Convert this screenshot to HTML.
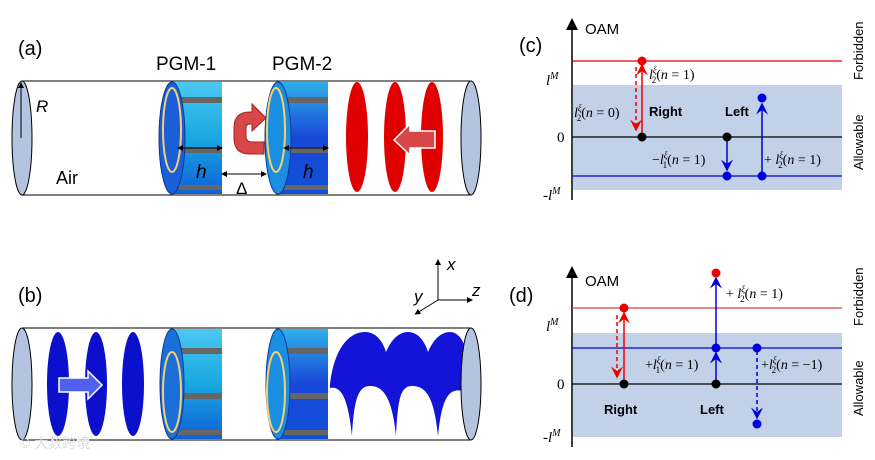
<!DOCTYPE html>
<html><head><meta charset="utf-8"><style>
body{margin:0;background:#fff}
svg{display:block;font-family:"Liberation Sans",sans-serif}
.m{font-family:"Liberation Serif",serif}
</style></head><body>
<svg width="875" height="460" viewBox="0 0 875 460" xmlns="http://www.w3.org/2000/svg">
<defs>
<marker id="ar" markerWidth="8" markerHeight="8" refX="7" refY="4" orient="auto"><path d="M0,0 L8,4 L0,8 L3,4 z" fill="#e00"/></marker>
<marker id="ab" markerWidth="8" markerHeight="8" refX="7" refY="4" orient="auto"><path d="M0,0 L8,4 L0,8 L3,4 z" fill="#00d"/></marker>
<marker id="am" markerWidth="6" markerHeight="6" refX="3" refY="3" orient="auto-start-reverse"><path d="M0,0 L6,3 L0,6 z" fill="#000"/></marker>
<linearGradient id="cy" x1="0" y1="0" x2="0" y2="1"><stop offset="0" stop-color="#4cc8f0"/><stop offset="0.5" stop-color="#18a8e0"/><stop offset="1" stop-color="#1060d8"/></linearGradient>
<linearGradient id="cy2" x1="0" y1="0" x2="0" y2="1"><stop offset="0" stop-color="#30b0e8"/><stop offset="0.5" stop-color="#1848d8"/><stop offset="1" stop-color="#1050d8"/></linearGradient>
</defs>

<!-- Panel a -->
<text x="18" y="55" font-size="20">(a)</text>
<text x="156" y="70" font-size="19">PGM-1</text>
<text x="272" y="70" font-size="19">PGM-2</text>
<line x1="22" y1="81" x2="471" y2="81" stroke="#000"/>
<line x1="22" y1="195" x2="471" y2="195" stroke="#000"/>
<ellipse cx="22" cy="138" rx="10" ry="57" fill="#b4c4e0" stroke="#000"/>
<ellipse cx="471" cy="138" rx="10" ry="57" fill="#b4c4e0" stroke="#000"/>
<line x1="21" y1="138" x2="21" y2="85" stroke="#000" marker-end="url(#am)"/>
<text x="36" y="112" font-size="17" font-style="italic">R</text>
<text x="56" y="184" font-size="18">Air</text>
<g>
<rect x="172" y="82" width="50" height="112" fill="url(#cy)"/>
<rect x="178" y="97" width="44" height="6" fill="#666"/><rect x="178" y="147" width="44" height="6" fill="#666"/><rect x="178" y="185" width="44" height="5" fill="#666"/>
<ellipse cx="172" cy="138" rx="13" ry="56" fill="#1a5fd8" stroke="#0a3aa0"/>
<ellipse cx="172" cy="130" rx="9" ry="42" fill="none" stroke="#f4d070" stroke-width="2"/>
<line x1="180" y1="148" x2="220" y2="148" stroke="#000" marker-start="url(#am)" marker-end="url(#am)"/>
<text x="196" y="178" font-size="19" font-style="italic">h</text>
</g>
<g>
<rect x="278" y="82" width="50" height="112" fill="url(#cy2)"/>
<rect x="284" y="97" width="44" height="6" fill="#666"/><rect x="284" y="147" width="44" height="6" fill="#666"/><rect x="284" y="185" width="44" height="5" fill="#666"/>
<ellipse cx="278" cy="138" rx="13" ry="56" fill="#1a8ee0" stroke="#0a3aa0"/>
<ellipse cx="276" cy="130" rx="9" ry="42" fill="none" stroke="#f4d070" stroke-width="2"/>
<line x1="286" y1="148" x2="326" y2="148" stroke="#000" marker-start="url(#am)" marker-end="url(#am)"/>
<text x="303" y="178" font-size="19" font-style="italic">h</text>
</g>
<line x1="224" y1="174" x2="264" y2="174" stroke="#000" marker-start="url(#am)" marker-end="url(#am)"/>
<text x="236" y="194" font-size="17">Δ</text>
<path d="M264,154 L250,154 Q234,154 234,138 L234,128 Q234,112 250,112 L252,112 L252,104 L266,118 L252,131 L252,124 L250,124 Q246,124 246,128 L246,136 Q246,142 252,142 L264,142 Z" fill="#d84848" stroke="#a02020"/>
<ellipse cx="357" cy="137" rx="11" ry="55" fill="#e00000"/>
<ellipse cx="395" cy="137" rx="11" ry="55" fill="#e00000"/>
<ellipse cx="432" cy="137" rx="11" ry="55" fill="#e00000"/>
<path d="M435,131 L410,131 L410,124 L394,140 L410,155 L410,148 L435,148 Z" fill="#d84848" stroke="#fff" stroke-width="1.5"/>

<!-- Panel b -->
<text x="18" y="302" font-size="20">(b)</text>
<line x1="438" y1="300" x2="438" y2="262" stroke="#000" marker-end="url(#am)"/>
<line x1="438" y1="300" x2="470" y2="300" stroke="#000" marker-end="url(#am)"/>
<line x1="438" y1="300" x2="417" y2="313" stroke="#000" marker-end="url(#am)"/>
<text x="447" y="270" font-size="17" font-style="italic">x</text>
<text x="472" y="296" font-size="17" font-style="italic">z</text>
<text x="414" y="302" font-size="17" font-style="italic">y</text>
<line x1="22" y1="328" x2="471" y2="328" stroke="#000"/>
<line x1="22" y1="440" x2="471" y2="440" stroke="#000"/>
<ellipse cx="22" cy="384" rx="10" ry="56" fill="#b4c4e0" stroke="#000"/>
<ellipse cx="58" cy="384" rx="11" ry="52" fill="#0a10cc"/>
<ellipse cx="96" cy="384" rx="11" ry="52" fill="#0a10cc"/>
<ellipse cx="133" cy="384" rx="11" ry="52" fill="#0a10cc"/>
<path d="M59,378 L88,378 L88,371 L102,385 L88,399 L88,392 L59,392 Z" fill="#5060f0" stroke="#fff" stroke-width="1.5"/>
<g>
<rect x="172" y="329" width="50" height="110" fill="url(#cy)"/>
<rect x="178" y="348" width="44" height="6" fill="#666"/><rect x="178" y="393" width="44" height="6" fill="#666"/><rect x="178" y="430" width="44" height="5" fill="#666"/>
<ellipse cx="172" cy="384" rx="12" ry="55" fill="#1a6fd8" stroke="#0a3aa0"/>
<ellipse cx="172" cy="392" rx="9" ry="40" fill="none" stroke="#f4d070" stroke-width="2"/>
</g>
<g>
<rect x="278" y="329" width="50" height="110" fill="url(#cy2)"/>
<rect x="284" y="348" width="44" height="6" fill="#666"/><rect x="284" y="393" width="44" height="6" fill="#666"/><rect x="284" y="430" width="44" height="5" fill="#666"/>
<ellipse cx="278" cy="384" rx="12" ry="55" fill="#1a8ee0" stroke="#0a3aa0"/>
<ellipse cx="276" cy="392" rx="9" ry="40" fill="none" stroke="#f4d070" stroke-width="2"/>
</g>
<path d="M330,384 C334,350 348,332 365,332 C378,332 384,345 386,352 C392,338 400,332 408,332 C420,332 426,345 428,352 C434,338 442,332 450,332 C460,332 466,345 466,355 L466,392 C450,386 442,395 438,436 C434,395 425,386 412,386 C400,386 398,400 396,436 C392,395 382,386 370,386 C358,386 354,400 352,436 C348,395 340,386 330,388 Z" fill="#1414d8"/>
<ellipse cx="471" cy="384" rx="10" ry="56" fill="#b4c4e0" stroke="#000"/>
<text x="20" y="448" font-size="14" fill="#ddd" font-family="'Liberation Sans','Noto Sans CJK SC',sans-serif">© 大数跨境</text>

<!-- Panel c -->
<text x="519" y="52" font-size="20">(c)</text>
<rect x="573" y="85" width="269" height="105" fill="#c2d0e8"/>
<line x1="572" y1="200" x2="572" y2="28" stroke="#000" stroke-width="1.5"/>
<path d="M566,30 L572,18 L578,30 Z"/>
<text x="585" y="34" font-size="15">OAM</text>
<line x1="572" y1="61" x2="842" y2="61" stroke="#d00" stroke-width="1.2"/>
<line x1="572" y1="137" x2="842" y2="137" stroke="#000" stroke-width="1.2"/>
<line x1="572" y1="176" x2="842" y2="176" stroke="#00d" stroke-width="1.2"/>
<text class="m" x="546" y="85" font-size="15"><tspan font-style="italic">l</tspan><tspan font-size="10" dy="-6" font-style="italic">M</tspan></text>
<text class="m" x="557" y="142" font-size="15">0</text>
<text class="m" x="543" y="200" font-size="15">-<tspan font-style="italic">l</tspan><tspan font-size="10" dy="-6" font-style="italic">M</tspan></text>
<line x1="642" y1="135" x2="642" y2="65" stroke="#e00" stroke-width="1.5" marker-end="url(#ar)"/>
<line x1="636" y1="67" x2="636" y2="130" stroke="#e00" stroke-width="1.5" stroke-dasharray="4,3" marker-end="url(#ar)"/>
<line x1="727" y1="140" x2="727" y2="170" stroke="#00d" stroke-width="1.5" marker-end="url(#ab)"/>
<line x1="762" y1="174" x2="762" y2="104" stroke="#00d" stroke-width="1.5" marker-end="url(#ab)"/>
<circle cx="642" cy="61" r="4.5" fill="#e00"/>
<circle cx="642" cy="137" r="4.5" fill="#000"/>
<circle cx="727" cy="137" r="4.5" fill="#000"/>
<circle cx="727" cy="176" r="4.5" fill="#00d"/>
<circle cx="762" cy="176" r="4.5" fill="#00d"/>
<circle cx="762" cy="98" r="4.5" fill="#00d"/>
<text class="m" x="649" y="79" font-size="14"><tspan font-style="italic">l</tspan><tspan font-size="9" dy="-6" font-style="italic">ξ</tspan><tspan font-size="9" dx="-5" dy="10">2</tspan><tspan dy="-4">(</tspan><tspan font-style="italic">n</tspan> = 1)</text>
<text class="m" x="574" y="117" font-size="14"><tspan font-style="italic">l</tspan><tspan font-size="9" dy="-6" font-style="italic">ξ</tspan><tspan font-size="9" dx="-5" dy="10">2</tspan><tspan dy="-4">(</tspan><tspan font-style="italic">n</tspan> = 0)</text>
<text x="649" y="116" font-size="13" font-weight="bold">Right</text>
<text x="725" y="116" font-size="13" font-weight="bold">Left</text>
<text class="m" x="652" y="164" font-size="14">−<tspan font-style="italic">l</tspan><tspan font-size="9" dy="-6" font-style="italic">ξ</tspan><tspan font-size="9" dx="-5" dy="10">1</tspan><tspan dy="-4">(</tspan><tspan font-style="italic">n</tspan> = 1)</text>
<text class="m" x="764" y="164" font-size="14">+ <tspan font-style="italic">l</tspan><tspan font-size="9" dy="-6" font-style="italic">ξ</tspan><tspan font-size="9" dx="-5" dy="10">2</tspan><tspan dy="-4">(</tspan><tspan font-style="italic">n</tspan> = 1)</text>
<text transform="translate(863,80) rotate(-90)" font-size="13">Forbidden</text>
<text transform="translate(863,170) rotate(-90)" font-size="13">Allowable</text>

<!-- Panel d -->
<text x="509" y="302" font-size="20">(d)</text>
<rect x="573" y="333" width="269" height="104" fill="#c2d0e8"/>
<line x1="572" y1="447" x2="572" y2="276" stroke="#000" stroke-width="1.5"/>
<path d="M566,278 L572,266 L578,278 Z"/>
<text x="585" y="286" font-size="15">OAM</text>
<line x1="572" y1="308" x2="842" y2="308" stroke="#d04040" stroke-width="1.2"/>
<line x1="572" y1="384" x2="842" y2="384" stroke="#000" stroke-width="1.2"/>
<line x1="572" y1="348" x2="842" y2="348" stroke="#00d" stroke-width="1.2"/>
<text class="m" x="546" y="331" font-size="15"><tspan font-style="italic">l</tspan><tspan font-size="10" dy="-6" font-style="italic">M</tspan></text>
<text class="m" x="557" y="389" font-size="15">0</text>
<text class="m" x="543" y="442" font-size="15">-<tspan font-style="italic">l</tspan><tspan font-size="10" dy="-6" font-style="italic">M</tspan></text>
<line x1="624" y1="382" x2="624" y2="313" stroke="#e00" stroke-width="1.5" marker-end="url(#ar)"/>
<line x1="617" y1="315" x2="617" y2="377" stroke="#e00" stroke-width="1.5" stroke-dasharray="4,3" marker-end="url(#ar)"/>
<line x1="716" y1="345" x2="716" y2="278" stroke="#00d" stroke-width="1.5" marker-end="url(#ab)"/>
<line x1="716" y1="381" x2="716" y2="353" stroke="#00d" stroke-width="1.5" marker-end="url(#ab)"/>
<line x1="757" y1="351" x2="757" y2="418" stroke="#00d" stroke-width="1.5" stroke-dasharray="4,3" marker-end="url(#ab)"/>
<circle cx="624" cy="308" r="4.5" fill="#e00"/>
<circle cx="624" cy="384" r="4.5" fill="#000"/>
<circle cx="716" cy="273" r="4.5" fill="#e00"/>
<circle cx="716" cy="348" r="4.5" fill="#00d"/>
<circle cx="716" cy="384" r="4.5" fill="#000"/>
<circle cx="757" cy="348" r="4.5" fill="#00d"/>
<circle cx="757" cy="424" r="4.5" fill="#00d"/>
<text class="m" x="726" y="298" font-size="14">+ <tspan font-style="italic">l</tspan><tspan font-size="9" dy="-6" font-style="italic">ξ</tspan><tspan font-size="9" dx="-5" dy="10">2</tspan><tspan dy="-4">(</tspan><tspan font-style="italic">n</tspan> = 1)</text>
<text class="m" x="645" y="369" font-size="14">+<tspan font-style="italic">l</tspan><tspan font-size="9" dy="-6" font-style="italic">ξ</tspan><tspan font-size="9" dx="-5" dy="10">1</tspan><tspan dy="-4">(</tspan><tspan font-style="italic">n</tspan> = 1)</text>
<text class="m" x="761" y="369" font-size="14">+<tspan font-style="italic">l</tspan><tspan font-size="9" dy="-6" font-style="italic">ξ</tspan><tspan font-size="9" dx="-5" dy="10">2</tspan><tspan dy="-4">(</tspan><tspan font-style="italic">n</tspan> = −1)</text>
<text x="604" y="414" font-size="13" font-weight="bold">Right</text>
<text x="700" y="414" font-size="13" font-weight="bold">Left</text>
<text transform="translate(863,326) rotate(-90)" font-size="13">Forbidden</text>
<text transform="translate(863,416) rotate(-90)" font-size="13">Allowable</text>
</svg>
</body></html>
